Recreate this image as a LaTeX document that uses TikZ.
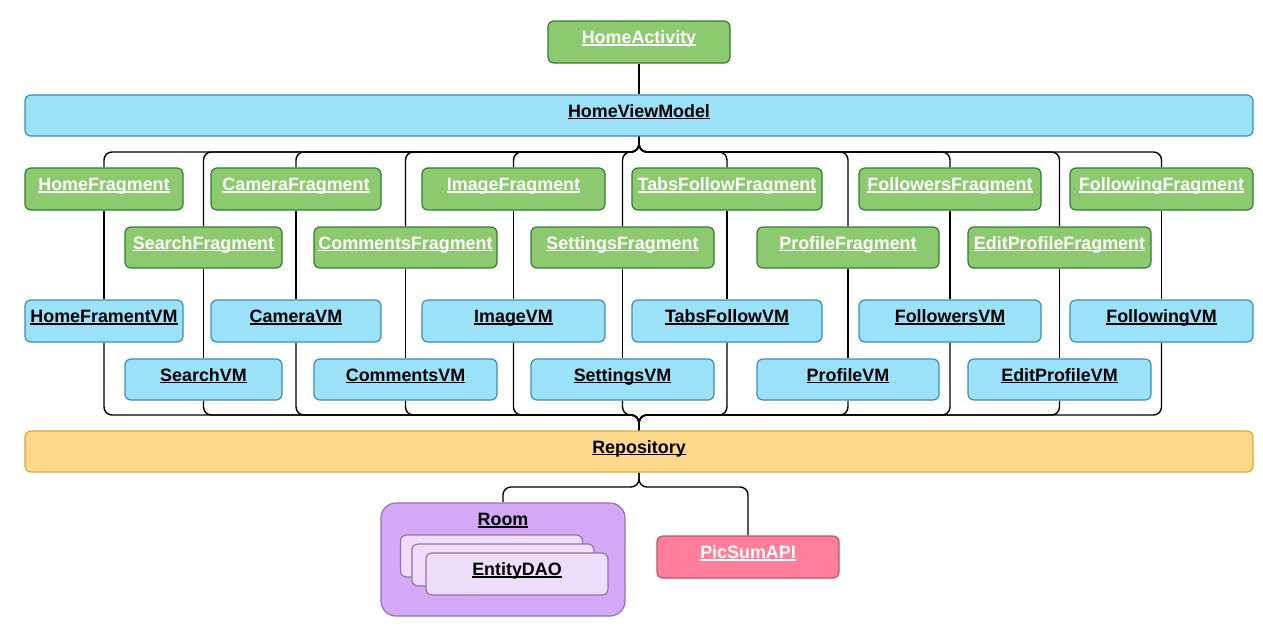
\documentclass[tikz,border=0pt]{standalone}
\usepackage{fontspec}
\setmainfont{Liberation Sans}
\usetikzlibrary{backgrounds,calc}
\definecolor{gfill}{HTML}{8DC96E}
\definecolor{gline}{HTML}{2E7D32}
\definecolor{bfill}{HTML}{9BE1F8}
\definecolor{bline}{HTML}{3A8DB3}
\definecolor{yfill}{HTML}{FFD98B}
\definecolor{yline}{HTML}{D9A73B}
\definecolor{pfill}{HTML}{D4AAF8}
\definecolor{pline}{HTML}{9673A6}
\definecolor{lfill}{HTML}{EEDDFB}
\definecolor{rfill}{HTML}{FF7E9A}
\definecolor{rline}{HTML}{B85470}
\newcommand\ulab[1]{\smash{\raisebox{-1.5pt}{\setbox0=\hbox{\bfseries#1}\rlap{\rule[-2.3pt]{\wd0}{1.4pt}}\box0}}}
\tikzset{
 box/.style={draw, rounded corners=6pt, line width=1.2pt, inner sep=0pt,
   font=\fontsize{17.9}{21}\selectfont, minimum height=42pt},
 gbox/.style={box, fill=gfill, draw=gline, text=white},
 bbox/.style={box, fill=bfill, draw=bline, text=black},
 conn/.style={draw=black, line width=1.4pt, rounded corners=8pt},
}
\begin{document}
\begin{tikzpicture}[x=1pt,y=-1pt]
\useasboundingbox (0,0) rectangle (1263,638);
% top
\node[gbox, minimum width=182] (ha) at (639,42) {\ulab{HomeActivity}};
\node[bbox, minimum width=1228, minimum height=41] (hvm) at (639,115.5) {\ulab{HomeViewModel}};
\node[box, fill=yfill, draw=yline, minimum width=1228, minimum height=41] (repo) at (639,451.5) {\ulab{Repository}};
% fragments row 1
\node[gbox, minimum width=158] (hf)  at (104,189)    {\ulab{HomeFragment}};
\node[gbox, minimum width=170] (cf)  at (296,189)    {\ulab{CameraFragment}};
\node[gbox, minimum width=183] (if)  at (513.5,189)  {\ulab{ImageFragment}};
\node[gbox, minimum width=190] (tf)  at (727,189)    {\ulab{TabsFollowFragment}};
\node[gbox, minimum width=182] (frf) at (950,189)    {\ulab{FollowersFragment}};
\node[gbox, minimum width=183] (fgf) at (1161.5,189) {\ulab{FollowingFragment}};
% fragments row 2
\node[gbox, minimum width=157, minimum height=41] (sf)  at (203.5,247.5)  {\ulab{SearchFragment}};
\node[gbox, minimum width=183, minimum height=41] (cmf) at (405.5,247.5)  {\ulab{CommentsFragment}};
\node[gbox, minimum width=183, minimum height=41] (stf) at (622.5,247.5)  {\ulab{SettingsFragment}};
\node[gbox, minimum width=182, minimum height=41] (pf)  at (848,247.5)    {\ulab{ProfileFragment}};
\node[gbox, minimum width=183, minimum height=41] (epf) at (1059.5,247.5) {\ulab{EditProfileFragment}};
% VM row 1
\node[bbox, minimum width=158] (hfv)  at (104,321)    {\ulab{HomeFramentVM}};
\node[bbox, minimum width=170] (cfv)  at (296,321)    {\ulab{CameraVM}};
\node[bbox, minimum width=183] (ifv)  at (513.5,321)  {\ulab{ImageVM}};
\node[bbox, minimum width=190] (tfv)  at (727,321)    {\ulab{TabsFollowVM}};
\node[bbox, minimum width=182] (frfv) at (950,321)    {\ulab{FollowersVM}};
\node[bbox, minimum width=183] (fgfv) at (1161.5,321) {\ulab{FollowingVM}};
% VM row 2
\node[bbox, minimum width=157, minimum height=41] (sfv)  at (203.5,379.5)  {\ulab{SearchVM}};
\node[bbox, minimum width=183, minimum height=41] (cmfv) at (405.5,379.5)  {\ulab{CommentsVM}};
\node[bbox, minimum width=183, minimum height=41] (stfv) at (622.5,379.5)  {\ulab{SettingsVM}};
\node[bbox, minimum width=182, minimum height=41] (pfv)  at (848,379.5)    {\ulab{ProfileVM}};
\node[bbox, minimum width=183, minimum height=41] (epfv) at (1059.5,379.5) {\ulab{EditProfileVM}};
% bottom
\node[box, fill=pfill, draw=pline, rounded corners=15pt, minimum width=244, minimum height=113] (room) at (503,559.5) {};
\node[font=\fontsize{17.9}{21}\selectfont, inner sep=0pt] (roomlab) at (503,524) {\ulab{Room}};
\node[box, fill=lfill, draw=pline, minimum width=182] (d1) at (491.5,556) {};
\node[box, fill=lfill, draw=pline, minimum width=182] (d2) at (503,565) {};
\node[box, fill=lfill, draw=pline, minimum width=182] (d3) at (517,574) {\ulab{EntityDAO}};
\node[box, fill=rfill, draw=rline, text=white, minimum width=182] (api) at (748,557) {\ulab{PicSumAPI}};
% connectors
\coordinate (tb) at (639,152);
\coordinate (bb) at (639,415);
\coordinate (rb) at (639,487);
\begin{pgfonlayer}{background}
\draw[conn] (ha.south) -- (hvm.north);
\foreach \f/\v in {hf/hfv, cf/cfv, if/ifv, tf/tfv, frf/frfv, fgf/fgfv, sf/sfv, cmf/cmfv, stf/stfv, pf/pfv, epf/epfv}{
  \draw[conn] (hvm.south) -- (tb) -| (\f.north);
  \draw[conn] (\f.south) -- (\v.north);
  \draw[conn] (\v.south) |- (bb) -- (repo.north);
}
\draw[conn] (repo.south) -- (rb) -| (room.north);
\draw[conn] (repo.south) -- (rb) -| (api.north);
\end{pgfonlayer}
\end{tikzpicture}
\end{document}
